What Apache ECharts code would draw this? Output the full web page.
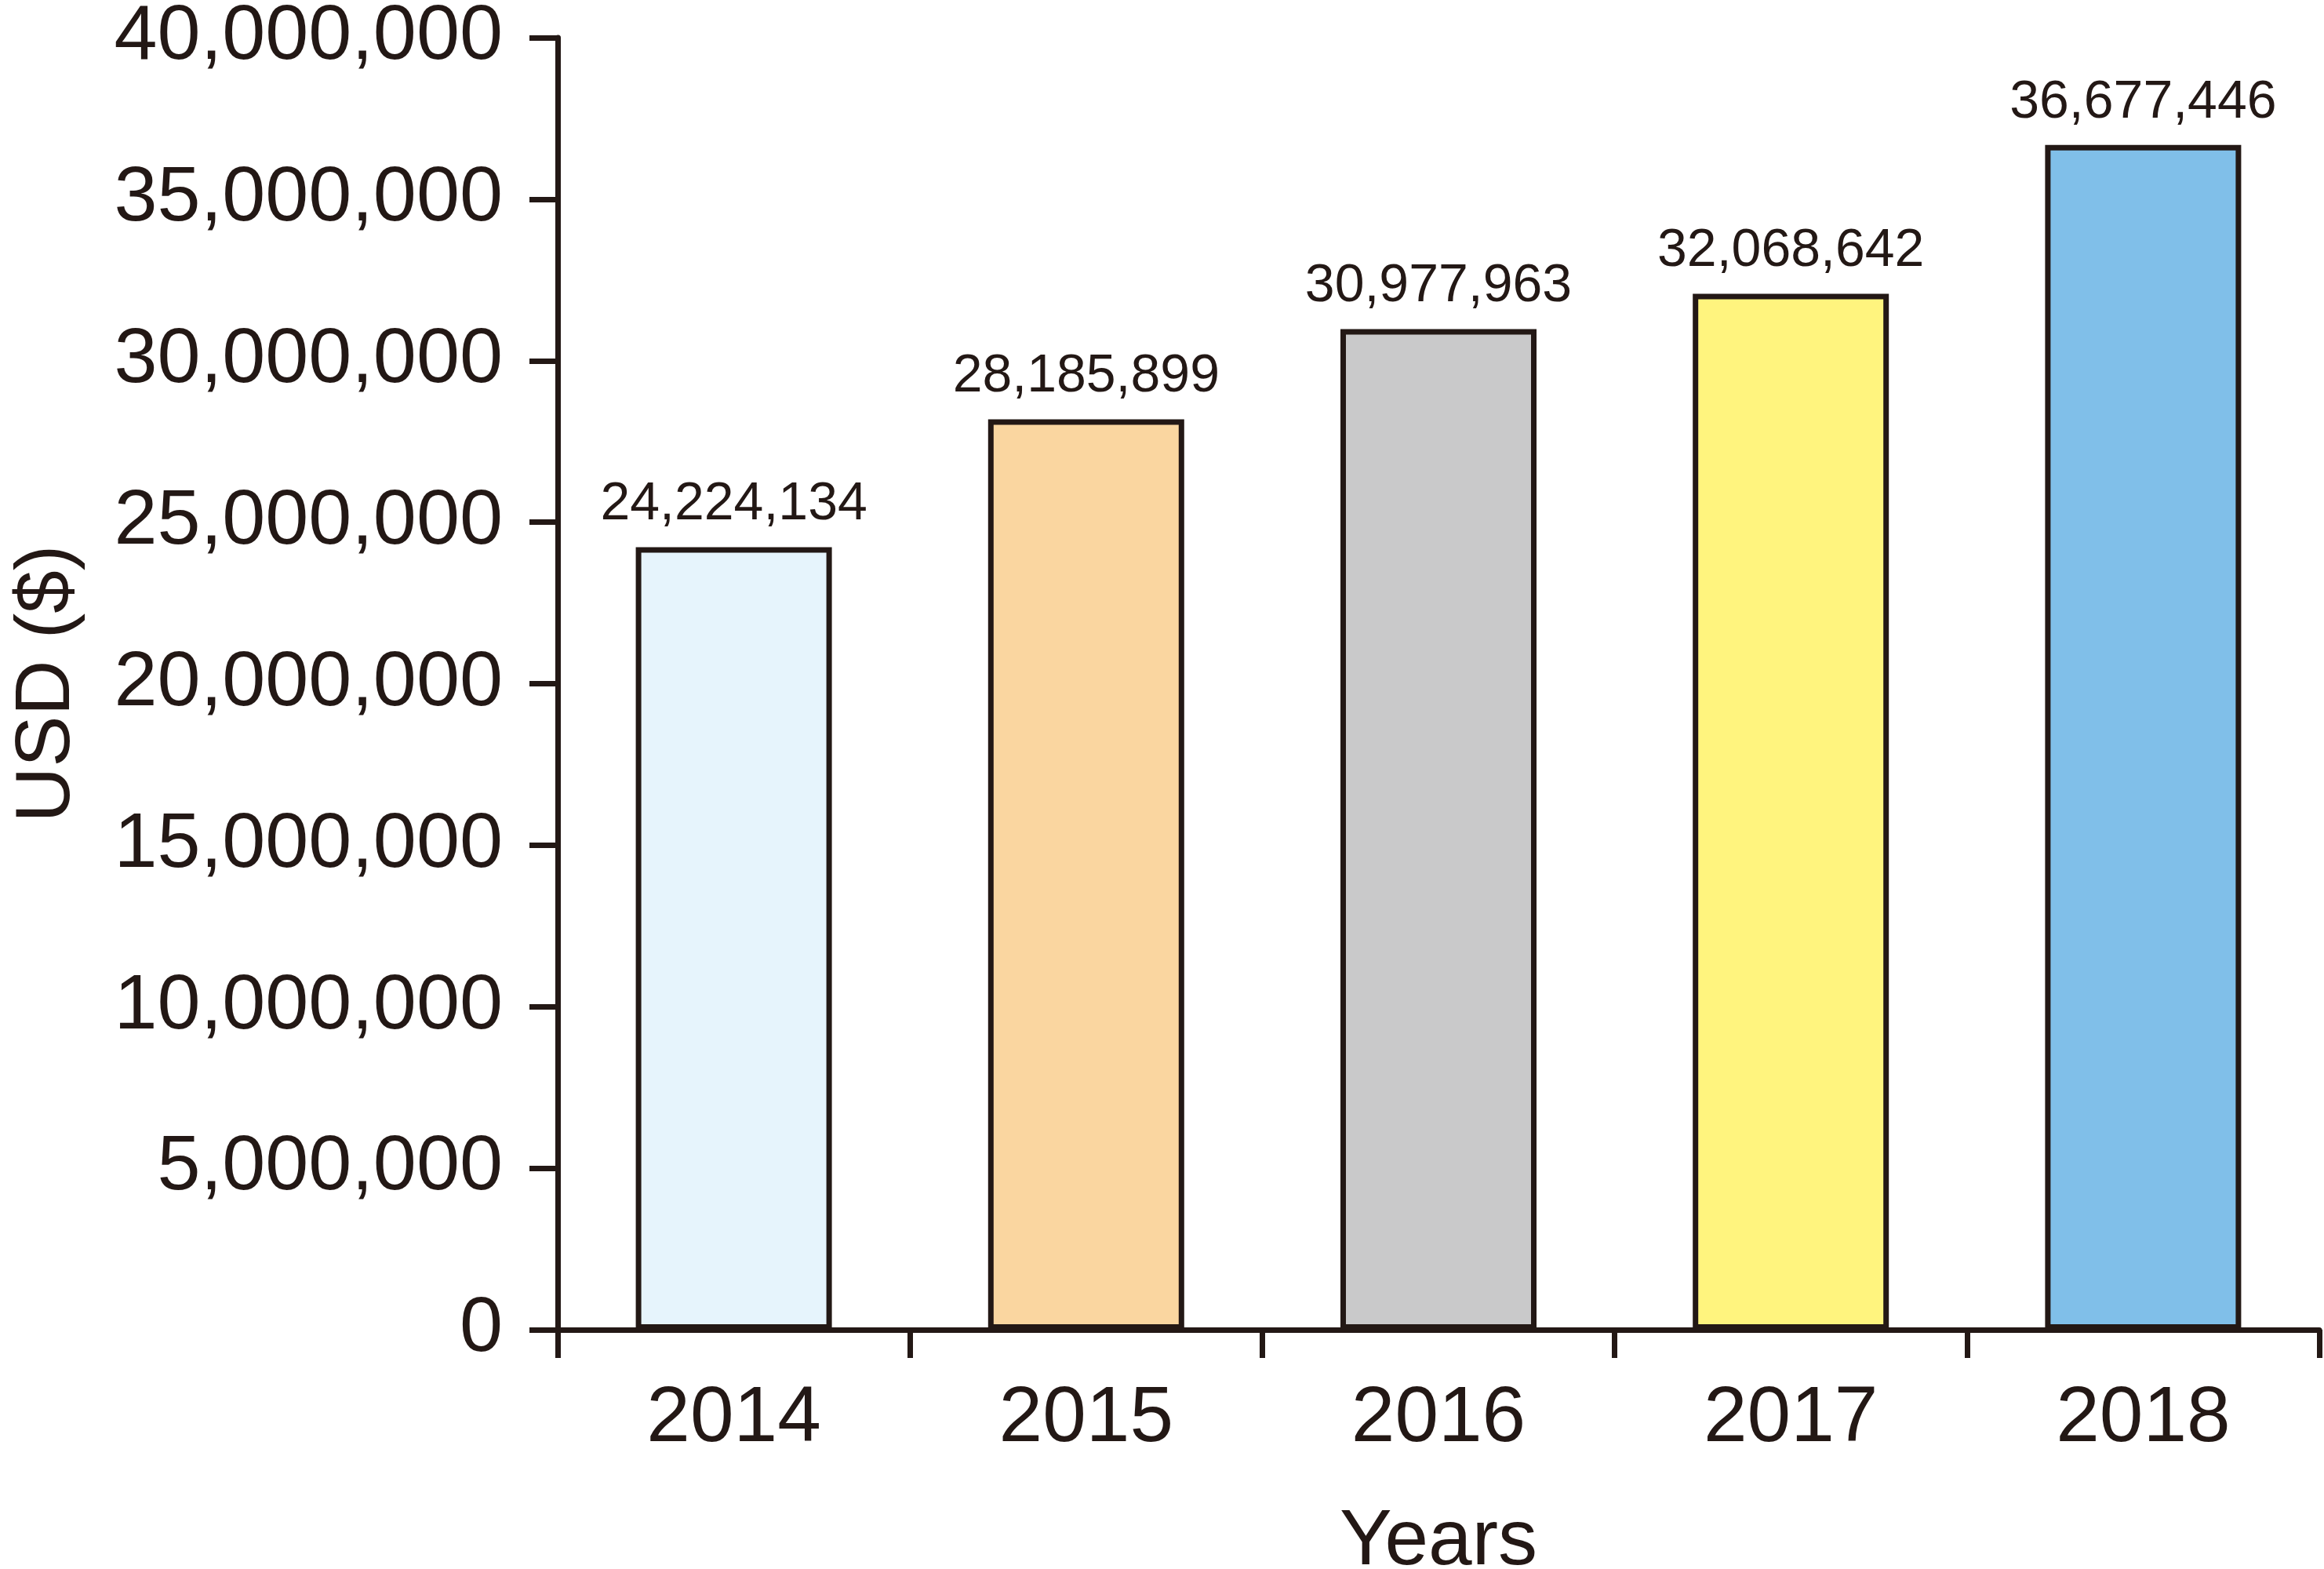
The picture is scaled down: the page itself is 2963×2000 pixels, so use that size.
<!DOCTYPE html>
<html>
<head>
<meta charset="utf-8">
<style>
html,body{margin:0;padding:0;background:#fff;}
#chart{width:2963px;height:2000px;}
</style>
<script src="https://cdn.jsdelivr.net/npm/echarts@6/dist/echarts.min.js"></script>
</head>
<body>
<div id="chart"></div>
<script>
const categories = ['2014', '2015', '2016', '2017', '2018'];
const values = [24224134, 28185899, 30977963, 32068642, 36677446];
const barColors = ['#E6F4FC', '#FAD6A0', '#C9C9CA', '#FFF47E', '#80BFE9'];
const yTicks = [0, 5000000, 10000000, 15000000, 20000000, 25000000, 30000000, 35000000, 40000000];

const ink = '#231815';
const fmt = v => Number(v).toLocaleString('en-US');

const chart = echarts.init(document.getElementById('chart'), null, {renderer: 'canvas'});
chart.setOption({
  backgroundColor: '#ffffff',
  animation: false,
  grid: {left: 711, top: 48, width: 2246, height: 1647, containLabel: false, outerBoundsMode: 'none'},
  xAxis: {
    type: 'category',
    data: categories,
    boundaryGap: true,
    name: 'Years',
    nameLocation: 'middle',
    nameGap: 221,
    nameTextStyle: {fontFamily: 'Liberation Sans, Arial, sans-serif', fontSize: 100, color: ink},
    axisLine: {lineStyle: {color: ink, width: 7}},
    axisTick: {show: true, length: 36, lineStyle: {color: ink, width: 7}, alignWithLabel: false},
    axisLabel: {fontFamily: 'Liberation Sans, Arial, sans-serif', fontSize: 100, color: ink, margin: 64}
  },
  yAxis: {
    type: 'value',
    min: 0,
    max: yTicks[yTicks.length - 1],
    interval: yTicks[1] - yTicks[0],
    name: 'USD ($)',
    nameLocation: 'middle',
    nameGap: 601,
    nameRotate: 90,
    nameTextStyle: {fontFamily: 'Liberation Sans, Arial, sans-serif', fontSize: 98, color: ink},
    splitLine: {show: false},
    axisLine: {show: true, lineStyle: {color: ink, width: 7}},
    axisTick: {show: true, length: 36, lineStyle: {color: ink, width: 7}},
    axisLabel: {
      fontFamily: 'Liberation Sans, Arial, sans-serif',
      fontSize: 99, color: ink, margin: 70,
      formatter: v => fmt(v)
    }
  },
  series: [{
    type: 'bar',
    data: values.map((v, i) => ({value: v, itemStyle: {color: barColors[i]}})),
    barWidth: 250,
    itemStyle: {borderColor: ink, borderWidth: 7},
    label: {
      show: true, position: 'top', distance: 20,
      fontFamily: 'Liberation Sans, Arial, sans-serif', fontSize: 68, color: ink,
      formatter: p => fmt(p.value)
    }
  }]
});
</script>
</body>
</html>
